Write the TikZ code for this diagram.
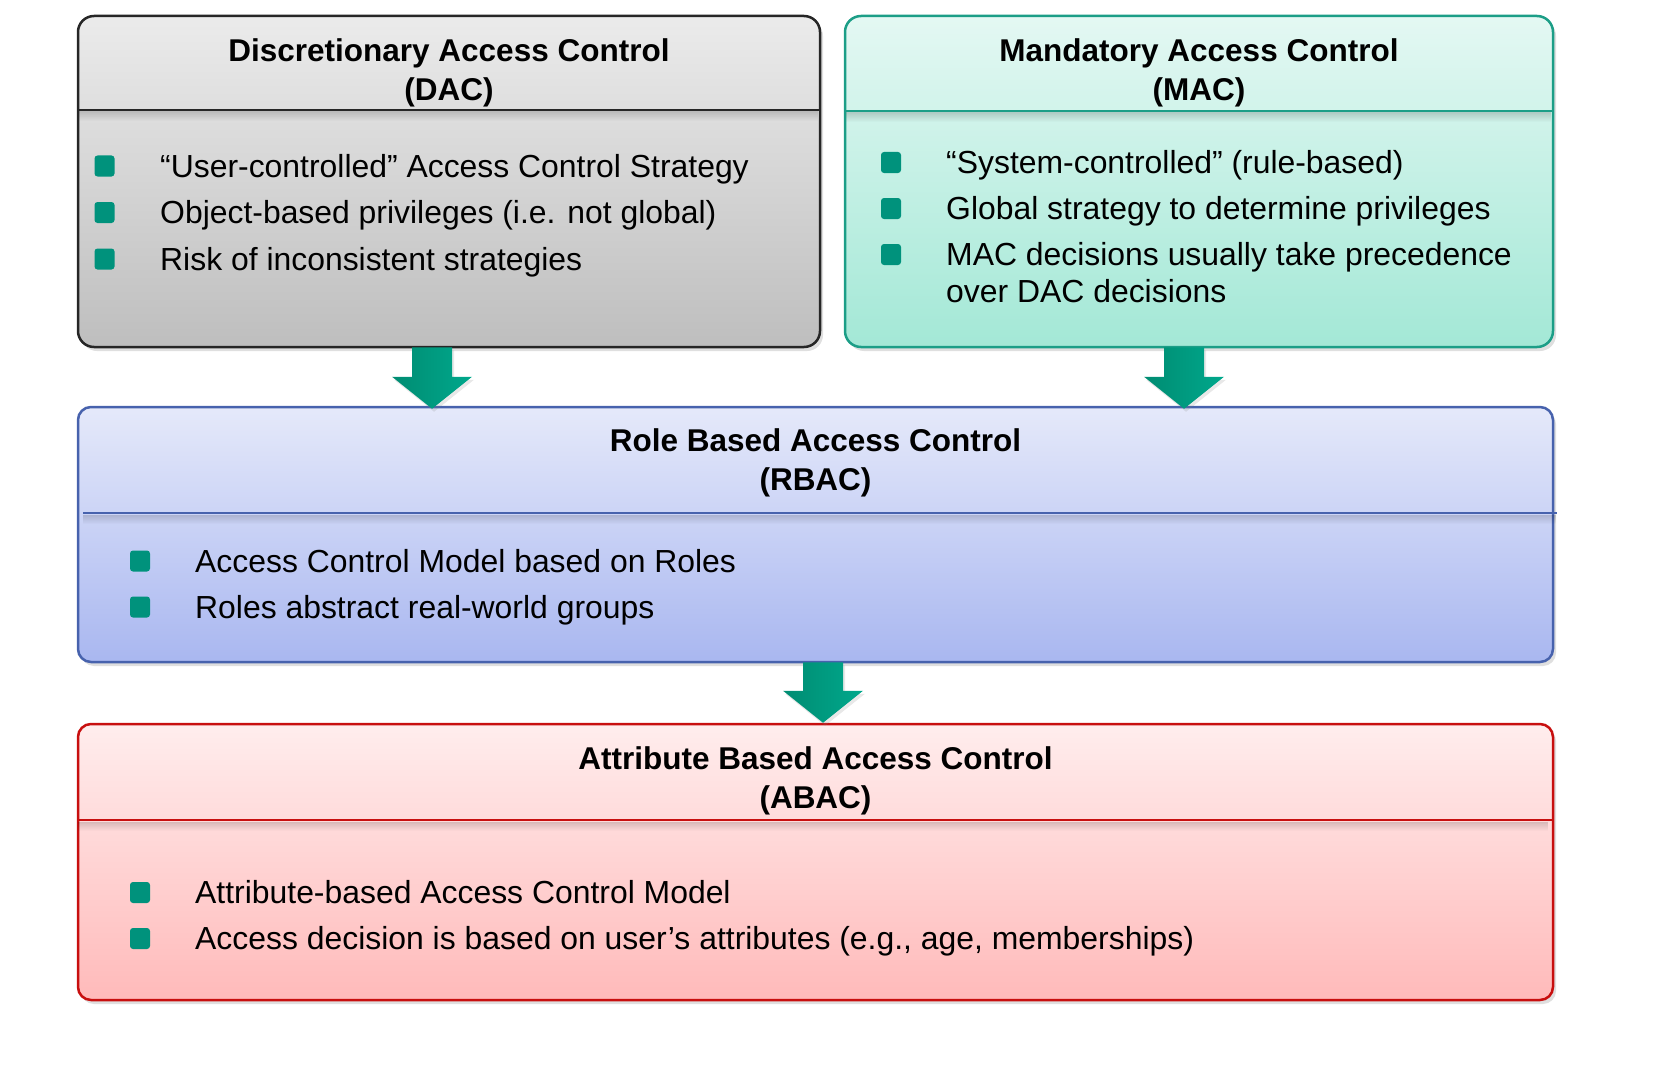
\documentclass[tikz,border=0pt]{standalone}
\usepackage{fontspec}
\setmainfont{Liberation Sans}
\usetikzlibrary{shadows,fadings,calc}
\definecolor{dacTop}{HTML}{EBEBEB}
\definecolor{dacBot}{HTML}{BEBEBE}
\definecolor{dacLine}{HTML}{262626}
\definecolor{macTop}{HTML}{E4F8F3}
\definecolor{macBot}{HTML}{A3E8D6}
\definecolor{macLine}{HTML}{1C9E87}
\definecolor{rbTop}{HTML}{E5E9FA}
\definecolor{rbBot}{HTML}{A9B7F0}
\definecolor{rbLine}{HTML}{4762AD}
\definecolor{abTop}{HTML}{FFEDED}
\definecolor{abBot}{HTML}{FFBABA}
\definecolor{abLine}{HTML}{C80F0F}
\definecolor{bulc}{HTML}{00927C}
\definecolor{arrL}{HTML}{008C72}
\definecolor{arrR}{HTML}{00A88C}
\begin{document}
\begin{tikzpicture}[x=1pt,y=-1pt,
  box/.style={rectangle, line width=2.5pt, inner sep=0,
    drop shadow={shadow xshift=3pt, shadow yshift=-4pt, opacity=0.25}},
  ttl/.style={anchor=base, inner sep=0, font=\bfseries\fontsize{31.5}{38}\selectfont},
  txt/.style={anchor=base west, inner sep=0, font=\fontsize{31.9}{37.5}\selectfont},
  bul/.style={rectangle, fill=bulc, minimum width=20pt, minimum height=21pt, inner sep=0, rounded corners=3pt},
  hline/.style={line width=2.5pt},
  hshade/.style={black, opacity=0.16, path fading=south},
  barrow/.style={left color=arrL, right color=arrR,
    drop shadow={shadow xshift=2pt, shadow yshift=-3pt, opacity=0.18}}]
\useasboundingbox (0,0) rectangle (1676,1070);

% boxes
\node[box, rounded corners=16pt, draw=dacLine, top color=dacTop, bottom color=dacBot,
  minimum width=742pt, minimum height=331pt] (dac) at (449,181.5) {};
\node[box, rounded corners=16pt, draw=macLine, top color=macTop, bottom color=macBot,
  minimum width=708pt, minimum height=331pt] (mac) at (1199,181.5) {};
\node[box, rounded corners=13pt, draw=rbLine, top color=rbTop, bottom color=rbBot,
  minimum width=1475pt, minimum height=255pt] (rbac) at (815.5,534.5) {};
\node[box, rounded corners=13pt, draw=abLine, top color=abTop, bottom color=abBot,
  minimum width=1475pt, minimum height=276pt] (abac) at (815.5,862) {};

% header separators with soft shadow
\fill[hshade] (79.5,111.5) rectangle (818.5,121);
\draw[hline, draw=dacLine] (78,110) -- (820,110);
\fill[hshade] (846.5,112.5) rectangle (1551.5,122);
\draw[hline, draw=macLine] (845,111) -- (1553,111);
\fill[hshade] (83,514.5) rectangle (1557,524);
\draw[hline, draw=rbLine] (83,513) -- (1557,513);
\fill[hshade] (79.5,821.5) rectangle (1551.5,831);
\draw[hline, draw=abLine] (78,820) -- (1553,820);

% titles
\node[ttl] (dact1) at (449,61.5) {Discretionary Access Control};
\node[ttl] (dact2) at (449,100.5) {(DAC)};
\node[ttl] (mact1) at (1199,61.5) {Mandatory Access Control};
\node[ttl] (mact2) at (1199,100.5) {(MAC)};
\node[ttl] (rbact1) at (815.5,451.5) {Role Based Access Control};
\node[ttl] (rbact2) at (815.5,490) {(RBAC)};
\node[ttl] (abact1) at (815.5,769) {Attribute Based Access Control};
\node[ttl] (abact2) at (815.5,808) {(ABAC)};

% DAC items
\node[bul] (dacb1) at (104.5,166) {};
\node[bul] (dacb2) at (104.5,212.5) {};
\node[bul] (dacb3) at (104.5,259) {};
\node[txt] (dacx1) at (160,177) {“User-controlled” Access Control Strategy};
\node[txt] (dacx2) at (160,223.5) {Object-based privileges (i.e. not global)};
\node[txt] (dacx3) at (160,270) {Risk of inconsistent strategies};

% MAC items
\node[bul] (macb1) at (891,162.5) {};
\node[bul] (macb2) at (891,208.5) {};
\node[bul] (macb3) at (891,254.5) {};
\node[txt] (macx1) at (946,173.5) {“System-controlled” (rule-based)};
\node[txt] (macx2) at (946,219.5) {Global strategy to determine privileges};
\node[txt] (macx3) at (946,265.5) {MAC decisions usually take precedence};
\node[txt] (macx3b) at (946,302.5) {over DAC decisions};

% RBAC items
\node[bul] (rbb1) at (140,561) {};
\node[bul] (rbb2) at (140,607) {};
\node[txt] (rbx1) at (195,572) {Access Control Model based on Roles};
\node[txt] (rbx2) at (195,618) {Roles abstract real-world groups};

% ABAC items
\node[bul] (abb1) at (140,892.5) {};
\node[bul] (abb2) at (140,938.5) {};
\node[txt] (abx1) at (195,903.5) {Attribute-based Access Control Model};
\node[txt] (abx2) at (195,949.5) {Access decision is based on user’s attributes (e.g., age, memberships)};

% block arrows
\coordinate (a1) at (432,0 |- dac.south);
\coordinate (t1) at ($(432,0 |- rbac.north)+(0,3)$);
\coordinate (a2) at (1184,0 |- mac.south);
\coordinate (t2) at ($(1184,0 |- rbac.north)+(0,3)$);
\coordinate (a3) at (823,0 |- rbac.south);
\coordinate (t3) at ($(823,0 |- abac.north)+(0,0)$);
\foreach \s/\t in {a1/t1, a2/t2, a3/t3}{
  \path[barrow] ($(\s)+(-20,-1)$) -- ($(\s)+(20,-1)$) -- ($(\t)+(20,-32)$) -- ($(\t)+(40,-32)$)
    -- (\t) -- ($(\t)+(-40,-32)$) -- ($(\t)+(-20,-32)$) -- cycle;
}
\end{tikzpicture}
\end{document}
